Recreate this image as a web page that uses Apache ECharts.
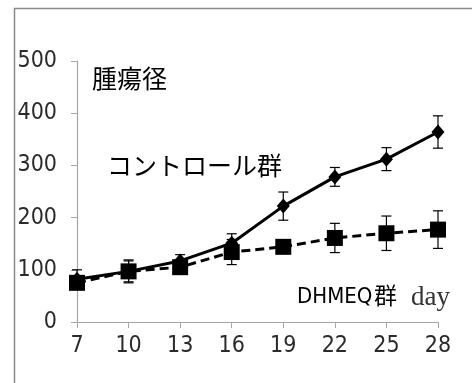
<!DOCTYPE html>
<html><head><meta charset="utf-8">
<script src="https://cdn.jsdelivr.net/npm/echarts@6/dist/echarts.min.js"></script>
<style>html,body{margin:0;padding:0;background:#fff}#c{width:472px;height:383px}</style>
</head><body><div id="c"></div>
<script>
const days = ['7','10','13','16','19','22','25','28'];
const controlMean = [82, 97, 117, 151, 222, 278, 312, 364];
const controlErr  = [18, 22, 12, 18, 27, 18, 22, 31];
const dhmeqMean   = [75, 97, 105, 134, 144, 161, 170, 177];
const dhmeqErr    = [12, 20, 10, 24, 8, 28, 33, 36];
const yTicks = [0, 100, 200, 300, 400, 500];

const numFont = '"Liberation Sans Narrow","DejaVu Sans Condensed",sans-serif';
const jpFont = '"Noto Sans CJK JP",sans-serif';

function errSeries(mean, err) {
  return {
    type: 'custom', z: 1, silent: true,
    data: days.map((d, i) => [i, mean[i] - err[i], mean[i] + err[i]]),
    renderItem: function (params, api) {
      const lo = api.coord([api.value(0), api.value(1)]);
      const hi = api.coord([api.value(0), api.value(2)]);
      const w = 5;
      const st = { stroke: '#000', lineWidth: 1.2, fill: null };
      return { type: 'group', children: [
        { type: 'line', shape: { x1: lo[0], y1: lo[1], x2: hi[0], y2: hi[1] }, style: st },
        { type: 'line', shape: { x1: lo[0] - w, y1: lo[1], x2: lo[0] + w, y2: lo[1] }, style: st },
        { type: 'line', shape: { x1: hi[0] - w, y1: hi[1], x2: hi[0] + w, y2: hi[1] }, style: st }
      ]};
    }
  };
}

const chart = echarts.init(document.getElementById('c'), null, { renderer: 'canvas' });
chart.setOption({
  animation: false,
  backgroundColor: '#fff',
  grid: { left: 77, right: 34, top: 61, bottom: 61, containLabel: false },
  xAxis: {
    type: 'category', data: days, boundaryGap: false,
    axisLine: { lineStyle: { color: '#a6a6a6', width: 1.2 } },
    axisTick: { show: true, length: 6, lineStyle: { color: '#a6a6a6' } },
    axisLabel: { margin: 13, fontSize: 23, fontFamily: numFont, color: '#2a2a2a' },
    splitLine: { show: false }
  },
  yAxis: {
    type: 'value', min: yTicks[0], max: yTicks[yTicks.length - 1], interval: 100,
    axisLine: { show: true, lineStyle: { color: '#a6a6a6', width: 1.2 } },
    axisTick: { show: true, length: 6, lineStyle: { color: '#a6a6a6' } },
    axisLabel: { margin: 20, fontSize: 23, fontFamily: numFont, color: '#2a2a2a' },
    splitLine: { show: false }
  },
  series: [
    errSeries(controlMean, controlErr),
    errSeries(dhmeqMean, dhmeqErr),
    {
      type: 'line', name: 'DHMEQ群', data: dhmeqMean, z: 3,
      symbol: 'rect', symbolSize: 16,
      itemStyle: { color: '#000' },
      lineStyle: { color: '#000', width: 3, type: [9, 5] }
    },
    {
      type: 'line', name: 'コントロール群', data: controlMean, z: 4,
      symbol: 'diamond', symbolSize: [13, 15],
      itemStyle: { color: '#000' },
      lineStyle: { color: '#000', width: 3 }
    }
  ],
  graphic: [
    { type: 'rect', silent: true, shape: { x: 14.5, y: 8.5, width: 800, height: 800 },
      style: { fill: null, stroke: '#8a8a8a', lineWidth: 1.5 } },
    { type: 'text', left: 92, top: 66, style: { text: '腫瘍径', font: '25px ' + jpFont, fill: '#000' } },
    { type: 'text', left: 107, top: 153, style: { text: 'コントロール群', font: '25px ' + jpFont, fill: '#000' } },
    { type: 'text', left: 297, top: 286, style: { text: 'DHMEQ', font: '22px ' + numFont, fill: '#000' } },
    { type: 'text', left: 374, top: 284, style: { text: '群', font: '23px ' + jpFont, fill: '#000' } },
    { type: 'text', left: 411, top: 284, style: { text: 'day', font: '27px "Liberation Serif",serif', fill: '#333' } }
  ]
});
</script></body></html>
